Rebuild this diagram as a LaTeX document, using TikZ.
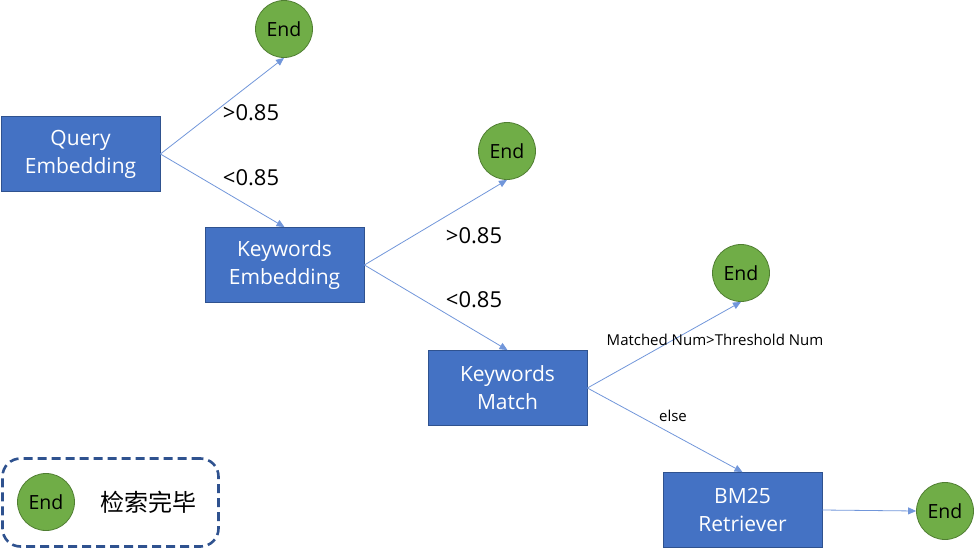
\documentclass[tikz,border=0pt]{standalone}
\usepackage{fontspec}
\setmainfont{Open Sans}
\newfontfamily\cjk{Noto Sans CJK SC}
\usetikzlibrary{arrows.meta}
\definecolor{boxfill}{HTML}{4472C4}
\definecolor{boxline}{HTML}{2F528F}
\definecolor{endfill}{HTML}{70AD47}
\definecolor{endline}{HTML}{507E32}
\definecolor{conn}{HTML}{7196DA}
\begin{document}
\begin{tikzpicture}[x=1pt,y=-1pt,
  procbox/.style={draw=boxline,fill=boxfill,line width=0.8pt,minimum width=159pt,minimum height=75pt,align=center,text=white,font=\fontsize{21}{28}\selectfont,inner sep=0pt},
  endnode/.style={circle,draw=endline,fill=endfill,line width=0.8pt,minimum size=57pt,inner sep=0pt,font=\fontsize{19.5}{22}\selectfont},
  conn/.style={draw=conn,line width=0.8pt,-{Triangle[length=8pt,width=7pt]}},
  lab/.style={font=\fontsize{22}{24}\selectfont,inner sep=0pt},
  slab/.style={font=\fontsize{15}{17}\selectfont,inner sep=0pt}]
\useasboundingbox (0,0) rectangle (977,554);
\node[procbox] (qe) at (80.5,154) {Query\\Embedding};
\node[procbox] (ke) at (284.5,265) {Keywords\\Embedding};
\node[procbox] (km) at (507.5,388) {Keywords\\Match};
\node[procbox] (bm) at (742.5,510) {BM25\\Retriever};
\node[endnode] (e1) at (284,29) {End};
\node[endnode] (e2) at (507,151) {End};
\node[endnode] (e3) at (741,273) {End};
\node[endnode] (e4) at (945,511) {End};
\draw[conn] (qe.east) -- (e1.south);
\draw[conn] (qe.east) -- (ke.north);
\draw[conn] (ke.east) -- (e2.south);
\draw[conn] (ke.east) -- (km.north);
\draw[conn] (km.east) -- (e3.south);
\draw[conn] (km.east) -- (bm.north);
\draw[conn] (bm.east) -- (e4.west);
\node[lab] (l1) at (251,113) {>0.85};
\node[lab] (l2) at (251,178) {<0.85};
\node[lab] (l3) at (474,236) {>0.85};
\node[lab] (l4) at (474,300) {<0.85};
\node[slab] (l5) at (715,340) {Matched Num>Threshold Num};
\node[slab] (l6) at (673,416) {else};
\node[draw=boxline,dashed,dash pattern=on 9pt off 5pt,line width=2.6pt,rounded corners=18pt,minimum width=216pt,minimum height=88pt] (leg) at (110.5,502.5) {};
\node[endnode] (le) at (46,502) {End};
\node[font=\cjk\fontsize{24}{26}\selectfont,inner sep=0pt] (lt) at (148,502) {检索完毕};
\end{tikzpicture}
\end{document}
